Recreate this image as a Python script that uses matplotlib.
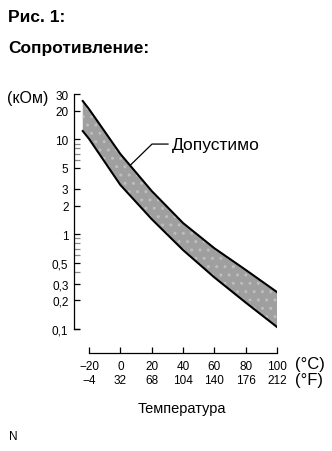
import matplotlib.pyplot as plt
import numpy as np

plt.rcParams["font.family"] = ["Liberation Sans", "DejaVu Sans"]

# temperature (°C) and resistance limits (kOhm)
temp_c = [-24, -20, 0, 20, 40, 60, 80, 100]
r_upper = [25.3, 20.8, 7.0, 2.85, 1.31, 0.71, 0.42, 0.245]
r_lower = [12.2, 10.1, 3.3, 1.44, 0.68, 0.35, 0.19, 0.105]

xticks_c = [-20, 0, 20, 40, 60, 80, 100]
xticks_f = [-4, 32, 68, 104, 140, 176, 212]
yticks = [0.1, 0.2, 0.3, 0.5, 1, 2, 3, 5, 10, 20, 30]
ytick_labels = ["0,1", "0,2", "0,3", "0,5", "1", "2", "3", "5", "10", "20", "30"]
yminor = [0.4, 0.6, 0.7, 0.8, 0.9, 6, 7, 8, 9]

W, H = 332, 452
fig = plt.figure(figsize=(W / 100, H / 100), dpi=100)
ax = fig.add_axes([74 / W, 1 - 330 / H, (277 - 74) / W, (330 - 95) / H])

ax.fill_between(temp_c, r_lower, r_upper, facecolor="#9f9f9f",
                edgecolor="#bdbdbd", hatch="..", linewidth=0)
ax.plot(temp_c, r_upper, color="black", lw=1.5)
ax.plot(temp_c, r_lower, color="black", lw=1.5)

ax.set_yscale("log")
ax.set_xlim(-29.6, 100)
ax.set_ylim(0.1, 30)

ax.set_yticks(yticks)
ax.set_yticklabels(ytick_labels)
ax.set_yticks(yminor, minor=True)
ax.yaxis.set_minor_formatter(plt.NullFormatter())
ax.tick_params(axis="y", which="major", direction="in", length=4.5,
               width=0.9, labelsize=8.5, pad=4)
ax.tick_params(axis="y", which="minor", direction="in", length=4.5,
               width=0.9, color="#888888")

ax.set_xticks(xticks_c)
ax.set_xticklabels([f"{c}\n{f}".replace("-", "\u2212")
                    for c, f in zip(xticks_c, xticks_f)], linespacing=1.45)
ax.tick_params(axis="x", direction="in", length=4, width=0.9,
               labelsize=8.5, pad=5)

for s in ["top", "right"]:
    ax.spines[s].set_visible(False)
ax.spines["left"].set_bounds(0.1, 30)
ax.spines["bottom"].set_bounds(-20, 100)
ax.spines["bottom"].set_position(("outward", 17.3))
ax.spines["left"].set_linewidth(0.9)
ax.spines["bottom"].set_linewidth(0.9)

# 0,1 end cap on the y axis
ax.plot([-29.6, -26.6], [0.1, 0.1], color="black", lw=0.9, clip_on=False)

# leader to the band
ax.plot([6.2, 20.2, 30.4], [5.3, 8.9, 8.9], color="black", lw=0.9,
        clip_on=False)
ax.text(33, 8.9, "Допустимо", fontsize=12.5, va="center", ha="left")

fig.text(8 / W, 1 - 17 / H, "Рис. 1:", fontsize=12.5, weight="bold",
         va="center", ha="left")
fig.text(8 / W, 1 - 49 / H, "Сопротивление:", fontsize=12.5, weight="bold",
         va="center", ha="left")
fig.text(7 / W, 1 - 98 / H, "(кОм)", fontsize=11.5, va="center", ha="left")
fig.text(295 / W, 1 - 364 / H, "(°C)", fontsize=12, va="center", ha="left")
fig.text(295 / W, 1 - 381 / H, "(°F)", fontsize=12, va="center", ha="left")
fig.text(182 / W, 1 - 409 / H, "Температура", fontsize=10.5, va="center",
         ha="center")
fig.text(9 / W, 1 - 437 / H, "N", fontsize=8.5, va="center", ha="left")

fig.savefig("out.png", dpi=100)
